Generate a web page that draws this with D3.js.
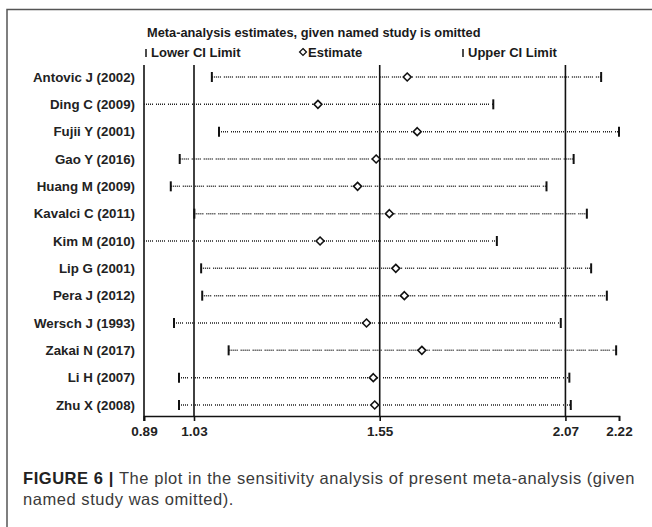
<!DOCTYPE html>
<html>
<head>
<meta charset="utf-8">
<script src="https://cdn.jsdelivr.net/npm/d3@7"></script>
<style>
  html, body { margin: 0; padding: 0; background: #fff; }
  svg { display: block; }
</style>
</head>
<body>
<div id="chart"></div>
<script>
// studies (omitted one at a time) and the pooled estimates that remain
var studies = ['Antovic J (2002)', 'Ding C (2009)', 'Fujii Y (2001)', 'Gao Y (2016)',
    'Huang M (2009)', 'Kavalci C (2011)', 'Kim M (2010)', 'Lip G (2001)', 'Pera J (2012)',
    'Wersch J (1993)', 'Zakai N (2017)', 'Li H (2007)', 'Zhu X (2008)'];
var lowerCI  = [1.08, 0.89, 1.10, 0.99, 0.965, 1.031, 0.89, 1.05, 1.053, 0.974, 1.127, 0.988, 0.988];
var estimate = [1.627, 1.377, 1.655, 1.540, 1.488, 1.577, 1.383, 1.595, 1.619, 1.513, 1.668, 1.532, 1.536];
var upperCI  = [2.170, 1.868, 2.220, 2.093, 2.017, 2.130, 1.878, 2.142, 2.186, 2.057, 2.212, 2.081, 2.085];
var tickValues = [0.89, 1.03, 1.55, 2.07, 2.22];
var refLines   = [1.03, 1.55, 2.07];

var width = 652, height = 527;

var svg = d3.select('#chart').append('svg')
    .attr('width', width)
    .attr('height', height);

// figure frame (open at right/bottom like the crop)
svg.append('path')
    .attr('d', 'M7,' + (height + 2) + 'V9.5H' + (width + 2))
    .attr('fill', 'none')
    .attr('stroke', '#555')
    .attr('stroke-width', 1.5);

var x = d3.scaleLinear().domain([0.89, 2.22]).range([144, 619]);
var y = d3.scalePoint().domain(studies).range([77, 405]);
var axisY = 416, topY = 65;

var rows = studies.map(function(s, i){
    return {label: s, lo: lowerCI[i], est: estimate[i], hi: upperCI[i]};
});

var font = 'Liberation Sans, Arial, sans-serif';

// title + legend
svg.append('text')
    .attr('x', 147).attr('y', 37)
    .style('font-family', font).style('font-size', '12.8px')
    .style('font-weight', 'bold').style('fill', '#1a1a1a')
    .text('Meta-analysis estimates, given named study is omitted');

var legend = [
    {x: 146, kind: 'bar', text: 'Lower CI Limit'},
    {x: 303, kind: 'diamond', text: 'Estimate'},
    {x: 463, kind: 'bar', text: 'Upper CI Limit'}
];
legend.forEach(function(l){
    if (l.kind === 'bar') {
        svg.append('line')
            .attr('x1', l.x).attr('x2', l.x)
            .attr('y1', 49).attr('y2', 57)
            .attr('stroke', '#111').attr('stroke-width', 1.5);
    } else {
        svg.append('path')
            .attr('d', d3.symbol(d3.symbolDiamond2, 30)())
            .attr('transform', 'translate(' + l.x + ',52)')
            .attr('fill', '#fff').attr('stroke', '#111').attr('stroke-width', 1.3);
    }
    svg.append('text')
        .attr('x', l.x + 5).attr('y', 57)
        .style('font-family', font).style('font-size', '13px')
        .style('font-weight', 'bold').style('fill', '#1a1a1a')
        .text(l.text);
});

// left axis + reference lines
svg.append('line')
    .attr('x1', x(0.89)).attr('x2', x(0.89))
    .attr('y1', topY).attr('y2', axisY + 5)
    .attr('stroke', '#111').attr('stroke-width', 1.6);

svg.selectAll('.ref').data(refLines).enter().append('line')
    .attr('class', 'ref')
    .attr('x1', function(d){ return x(d); })
    .attr('x2', function(d){ return x(d); })
    .attr('y1', topY).attr('y2', axisY)
    .attr('stroke', '#111').attr('stroke-width', 1.6);

// bottom axis
var axis = svg.append('g')
    .attr('transform', 'translate(0,' + axisY + ')')
    .call(d3.axisBottom(x).tickValues(tickValues).tickSize(5).tickPadding(5)
        .tickFormat(d3.format('.2f')));
axis.select('.domain').attr('stroke', '#111').attr('stroke-width', 1.6);
axis.selectAll('.tick line').attr('stroke', '#111').attr('stroke-width', 1.6);
axis.selectAll('.tick text')
    .style('font-family', font).style('font-size', '13.5px')
    .style('font-weight', 'bold').style('fill', '#222');

// study labels
svg.selectAll('.lab').data(rows).enter().append('text')
    .attr('class', 'lab')
    .attr('x', 135)
    .attr('y', function(d){ return y(d.label); })
    .attr('dy', '0.35em')
    .attr('text-anchor', 'end')
    .style('font-family', font).style('font-size', '13.3px')
    .style('font-weight', 'bold').style('fill', '#222')
    .text(function(d){ return d.label; });

// dotted CI lines
svg.selectAll('.ci').data(rows).enter().append('line')
    .attr('class', 'ci')
    .attr('x1', function(d){ return x(d.lo); })
    .attr('x2', function(d){ return x(d.hi); })
    .attr('y1', function(d){ return y(d.label); })
    .attr('y2', function(d){ return y(d.label); })
    .attr('stroke', '#222').attr('stroke-width', 1.5)
    .attr('stroke-dasharray', '1,1,1,1,1,1,1,1,1,3');

// CI limit bars
['lo', 'hi'].forEach(function(k){
    svg.selectAll('.bar-' + k).data(rows.filter(function(d){ return d[k] > 0.891; }))
        .enter().append('line')
        .attr('class', 'bar-' + k)
        .attr('x1', function(d){ return x(d[k]); })
        .attr('x2', function(d){ return x(d[k]); })
        .attr('y1', function(d){ return y(d.label) - 5; })
        .attr('y2', function(d){ return y(d.label) + 5; })
        .attr('stroke', '#111').attr('stroke-width', 2);
});

// estimates
svg.selectAll('.est').data(rows).enter().append('path')
    .attr('class', 'est')
    .attr('d', d3.symbol(d3.symbolDiamond2, 40)())
    .attr('transform', function(d){ return 'translate(' + x(d.est) + ',' + y(d.label) + ')'; })
    .attr('fill', '#fff').attr('stroke', '#111').attr('stroke-width', 1.6);

// caption
var cap = svg.append('text')
    .attr('x', 23).attr('y', 484)
    .style('font-family', font).style('font-size', '16.5px')
    .style('letter-spacing', '0.55px')
    .style('fill', '#3a3a3a');
cap.append('tspan').style('font-weight', 'bold').style('fill', '#222').text('FIGURE 6 | ');
cap.append('tspan').text('The plot in the sensitivity analysis of present meta-analysis (given');
svg.append('text')
    .attr('x', 23).attr('y', 505)
    .style('font-family', font).style('font-size', '16.5px')
    .style('letter-spacing', '0.55px')
    .style('fill', '#3a3a3a')
    .text('named study was omitted).');
</script>
</body>
</html>
